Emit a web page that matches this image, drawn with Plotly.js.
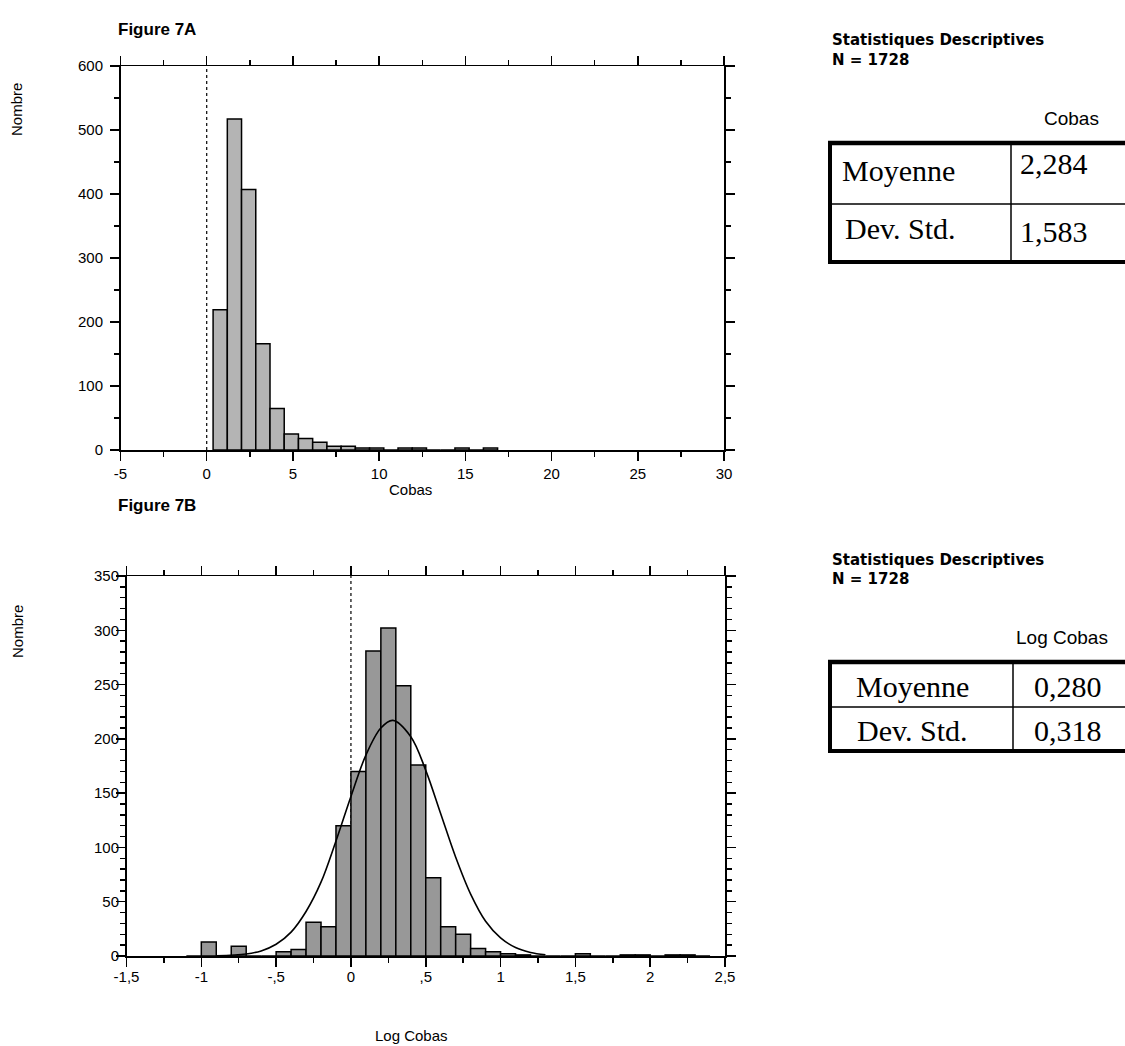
<!DOCTYPE html>
<html>
<head>
<meta charset="utf-8">
<script src="https://cdn.plot.ly/plotly-3.0.1.min.js"></script>
<style>html,body{margin:0;padding:0;background:#fff;}#chart{width:1125px;height:1046px;}</style>
</head>
<body>
<div id="chart"></div>
<script>
// ---- Data ----
// Figure 7A: histogram of Cobas
const cobasBinStart = 0.37;
const cobasBinWidth = 0.825;
const cobasCounts = [219, 517, 407, 166, 65, 25, 18, 12, 6, 6, 3, 3, 0, 3, 3, 0, 0, 3, 0, 3];
const cobasTickVals = [-5, 0, 5, 10, 15, 20, 25, 30];
const cobasTickText = ['-5', '0', '5', '10', '15', '20', '25', '30'];

// Figure 7B: histogram of Log Cobas
const logBinStart = -1.1;
const logBinWidth = 0.1;
const logCounts = [0, 13, 0, 9, 0, 0, 4, 6, 31, 27, 120, 170, 281, 302, 249, 176, 72, 27, 20, 7, 4, 2, 1, 0, 0, 0, 2, 0, 0, 1, 1, 0, 1, 1, 0];
const logTickVals = [-1.5, -1, -0.5, 0, 0.5, 1, 1.5, 2, 2.5];
const logTickText = ['-1,5', '-1', '-,5', '0', ',5', '1', '1,5', '2', '2,5'];
// Fitted normal curve
const curveX = [-0.9, -0.7, -0.6, -0.5, -0.4, -0.3, -0.2, -0.1, 0, 0.1, 0.2, 0.28, 0.4, 0.5, 0.6, 0.7, 0.8, 0.9, 1.0, 1.1, 1.2, 1.3];
const curveY = [0.2, 1.9, 4.7, 10.8, 22, 41, 68, 106, 147, 185, 210, 217, 202, 171, 131, 91, 57, 32, 16.7, 7.8, 3.3, 1.2];

// Descriptive statistics
const statN = '1728';
const statRowLabels = ['Moyenne', 'Dev. Std.'];
const cobasStats = ['2,284', '1,583'];
const logStats = ['0,280', '0,318'];

// ---- Helpers ----
const W = 1125, H = 1046;
const X = px => px / W;
const Y = py => 1 - py / H;
const sans = 'Liberation Sans, Arial, sans-serif';
const wide = 'DejaVu Sans, Verdana, sans-serif';
const serif = 'Liberation Serif, Times New Roman, serif';

const cobasX = cobasCounts.map((_, i) => cobasBinStart + (i + 0.5) * cobasBinWidth);
const logX = logCounts.map((_, i) => logBinStart + (i + 0.5) * logBinWidth);

const traces = [
  {
    type: 'bar', x: cobasX, y: cobasCounts, width: cobasBinWidth,
    marker: {color: '#b4b4b4', line: {color: '#000', width: 1.5}},
    xaxis: 'x', yaxis: 'y', hoverinfo: 'x+y'
  },
  {
    type: 'bar', x: logX, y: logCounts, width: logBinWidth,
    marker: {color: '#989898', line: {color: '#000', width: 1.5}},
    xaxis: 'x2', yaxis: 'y2', hoverinfo: 'x+y'
  },
  {
    type: 'scatter', mode: 'lines', x: curveX, y: curveY,
    line: {color: '#000', width: 1.6, shape: 'spline', smoothing: 1},
    xaxis: 'x2', yaxis: 'y2', hoverinfo: 'skip'
  }
];

const axBase = {
  showgrid: false, zeroline: false, showline: true, linecolor: '#000', linewidth: 1.5,
  ticks: 'outside', ticklen: 9, tickwidth: 1.5, tickcolor: '#000', mirror: 'ticks',
  tickfont: {family: sans, size: 15, color: '#000'}, fixedrange: true
};

const layout = {
  width: W, height: H,
  margin: {l: 0, r: 0, t: 0, b: 0},
  paper_bgcolor: '#fff', plot_bgcolor: '#fff',
  showlegend: false, bargap: 0,
  font: {family: sans, size: 15, color: '#000'},
  xaxis: Object.assign({}, axBase, {
    domain: [X(120.5), X(724)], anchor: 'y', range: [-5, 30],
    tickmode: 'array', tickvals: cobasTickVals, ticktext: cobasTickText,
    minor: {dtick: 2.5, tick0: 0, ticks: 'outside', ticklen: 5, tickwidth: 1.5, tickcolor: '#000'}
  }),
  yaxis: Object.assign({}, axBase, {
    domain: [Y(450), Y(66)], anchor: 'x', range: [0, 600], dtick: 100, tick0: 0,
    ticklabelstandoff: 4,
    minor: {dtick: 50, tick0: 0, ticks: 'outside', ticklen: 5, tickwidth: 1.5, tickcolor: '#000'}
  }),
  xaxis2: Object.assign({}, axBase, {
    domain: [X(126.5), X(725)], anchor: 'y2', range: [-1.5, 2.5],
    tickmode: 'array', tickvals: logTickVals, ticktext: logTickText,
    ticklabelstandoff: -3,
    minor: {dtick: 0.25, tick0: 0, ticks: 'outside', ticklen: 5, tickwidth: 1.5, tickcolor: '#000'}
  }),
  yaxis2: Object.assign({}, axBase, {
    domain: [Y(956), Y(576)], anchor: 'x2', range: [0, 350], dtick: 50, tick0: 0,
    ticklabelstandoff: -6,
    minor: {dtick: 10, tick0: 0, ticks: 'outside', ticklen: 5, tickwidth: 1.5, tickcolor: '#000'}
  }),
  shapes: [],
  annotations: []
};

// dotted reference lines at x = 0
layout.shapes.push({type: 'line', xref: 'x', yref: 'y domain', x0: 0, x1: 0, y0: 0, y1: 1,
  line: {color: '#000', width: 1.2, dash: 'dot'}, layer: 'below'});
layout.shapes.push({type: 'line', xref: 'x2', yref: 'y2 domain', x0: 0, x1: 0, y0: 0, y1: 1,
  line: {color: '#000', width: 1.2, dash: 'dot'}, layer: 'below'});

function hline(x0, x1, y, w) {
  layout.shapes.push({type: 'line', xref: 'paper', yref: 'paper', x0: X(x0), x1: X(x1), y0: Y(y), y1: Y(y), line: {color: '#000', width: w}});
}
function vline(x, y0, y1, w) {
  layout.shapes.push({type: 'line', xref: 'paper', yref: 'paper', x0: X(x), x1: X(x), y0: Y(y0), y1: Y(y1), line: {color: '#000', width: w}});
}
function text(t, x, y, opts) {
  layout.annotations.push(Object.assign({
    text: t, xref: 'paper', yref: 'paper', x: X(x), y: Y(y), showarrow: false,
    xanchor: 'left', yanchor: 'middle', font: {family: sans, size: 14, color: '#000'}
  }, opts || {}));
}

// Table 1 (Cobas)
hline(828, 1125, 143, 4.5);
hline(828, 1125, 204, 1.5);
hline(828, 1125, 262, 4);
vline(830, 141, 264, 4);
vline(1011, 143, 262, 1.5);
// Table 2 (Log Cobas)
hline(828, 1125, 662, 4.5);
hline(828, 1125, 707, 1.5);
hline(828, 1125, 751, 4);
vline(830, 660, 753, 4);
vline(1013, 662, 751, 1.5);

// Titles and labels
text('<b>Figure 7A</b>', 116, 30, {font: {family: sans, size: 17, color: '#000'}});
text('<b>Figure 7B</b>', 116, 506, {font: {family: sans, size: 17, color: '#000'}});
text('Nombre', 17, 110, {textangle: -90, xanchor: 'center', font: {family: sans, size: 15, color: '#000'}});
text('Nombre', 17, 632, {textangle: -90, xanchor: 'center', font: {family: sans, size: 15, color: '#000'}});
text('Cobas', 410, 489, {xanchor: 'center', font: {family: sans, size: 15, color: '#000'}});
text('Log Cobas', 411, 1035, {xanchor: 'center', font: {family: sans, size: 15, color: '#000'}});

// Stats block 1
text('<b>Statistiques Descriptives</b>', 830, 40.5, {font: {family: wide, size: 15, color: '#000'}});
text('<b>N = ' + statN + '</b>', 830, 60, {font: {family: wide, size: 15, color: '#000'}});
text('Cobas', 1101, 119, {xanchor: 'right', font: {family: sans, size: 19, color: '#000'}});
text(statRowLabels[0], 840, 170, {font: {family: serif, size: 30, color: '#000'}});
text(cobasStats[0], 1018, 164, {font: {family: serif, size: 30, color: '#000'}});
text(statRowLabels[1], 843, 228, {font: {family: serif, size: 30, color: '#000'}});
text(cobasStats[1], 1018, 231, {font: {family: serif, size: 30, color: '#000'}});

// Stats block 2
text('<b>Statistiques Descriptives</b>', 830, 559.5, {font: {family: wide, size: 15, color: '#000'}});
text('<b>N = ' + statN + '</b>', 830, 579, {font: {family: wide, size: 15, color: '#000'}});
text('Log Cobas', 1110, 637, {xanchor: 'right', font: {family: sans, size: 19, color: '#000'}});
text(statRowLabels[0], 912, 686, {xanchor: 'center', font: {family: serif, size: 30, color: '#000'}});
text(logStats[0], 1068, 686, {xanchor: 'center', font: {family: serif, size: 30, color: '#000'}});
text(statRowLabels[1], 912, 730, {xanchor: 'center', font: {family: serif, size: 30, color: '#000'}});
text(logStats[1], 1068, 730, {xanchor: 'center', font: {family: serif, size: 30, color: '#000'}});

Plotly.newPlot('chart', traces, layout, {displayModeBar: false, staticPlot: true});
</script>
</body>
</html>
